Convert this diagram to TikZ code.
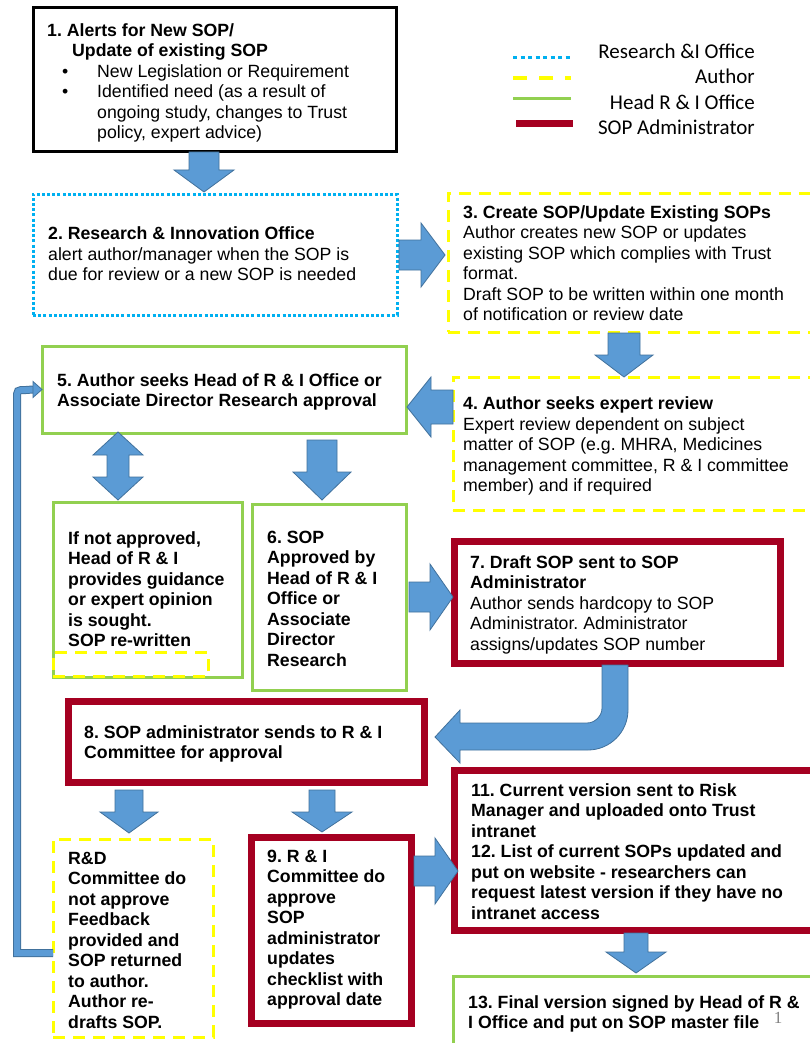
\documentclass[tikz,border=0pt]{standalone}
\usepackage{fontspec}
\setmainfont{Liberation Sans}
\newfontfamily\legfont{Carlito}
\newfontfamily\numfont{Liberation Serif}
\usetikzlibrary{calc}
\frenchspacing
\definecolor{blkfill}{HTML}{5B9BD5}
\definecolor{blkedge}{HTML}{41719C}
\definecolor{cyanb}{HTML}{00B0F0}
\definecolor{yelb}{HTML}{FFFF00}
\definecolor{greenb}{HTML}{92D050}
\definecolor{redb}{HTML}{A50021}
\tikzset{
  box/.style={rectangle, inner sep=0pt, outer sep=0pt, anchor=north west, fill=white},
  blackbox/.style={box, draw=black, line width=3pt},
  ribox/.style={box, draw=cyanb, line width=3pt, dash pattern=on 3pt off 2.2pt},
  autbox/.style={box, draw=yelb, line width=3pt, dash pattern=on 12pt off 8pt},
  headbox/.style={box, draw=greenb, line width=3pt},
  admbox/.style={box, draw=redb, line width=7pt},
  blk/.style={fill=blkfill, draw=blkedge, line width=0.8pt, line join=miter},
  txt/.style={anchor=north west, inner sep=0pt, align=left, font=\frenchspacing\fontsize{17.7}{20.5}\selectfont},
  btxt/.style={txt, font=\frenchspacing\fontsize{17.7}{20.5}\selectfont\bfseries},
  legtxt/.style={anchor=base east, inner sep=0pt, font=\legfont\fontsize{21}{25}\selectfont},
}
\newcommand\mkbox[6]{\node[#2, minimum width={#5pt-#3pt}, minimum height={#6pt-#4pt}] (#1) at (#3,#4) {};}
% cx, y0, tip y, shaft half, head half, head length
\newcommand\blkdown[6]{\filldraw[blk] (#1-#4,#2) -- (#1+#4,#2) -- (#1+#4,#3-#6) -- (#1+#5,#3-#6) -- (#1,#3) -- (#1-#5,#3-#6) -- (#1-#4,#3-#6) -- cycle;}
% cy, x0, tip x, shaft half, head half, head length
\newcommand\blkright[6]{\filldraw[blk] (#2,#1-#4) -- (#3-#6,#1-#4) -- (#3-#6,#1-#5) -- (#3,#1) -- (#3-#6,#1+#5) -- (#3-#6,#1+#4) -- (#2,#1+#4) -- cycle;}
\newcommand\blkleft[6]{\filldraw[blk] (#2,#1-#4) -- (#3+#6,#1-#4) -- (#3+#6,#1-#5) -- (#3,#1) -- (#3+#6,#1+#5) -- (#3+#6,#1+#4) -- (#2,#1+#4) -- cycle;}
\begin{document}
\begin{tikzpicture}[x=1pt, y=-1pt]
\useasboundingbox (0,0) rectangle (810,1043);
\fill[white] (0,0) rectangle (810,1043);

% boxes
\mkbox{b1}{blackbox}{33}{8}{396}{152}
\mkbox{b2}{ribox}{33}{194}{397}{315}
\mkbox{b3}{autbox}{448}{193}{830}{332}
\mkbox{b4}{autbox}{453}{377}{830}{510}
\mkbox{b5}{headbox}{42}{346}{406}{433}
\mkbox{bna}{headbox}{53}{502}{242}{677}
\node[box, fill=none, draw=yelb, line width=3pt, dash pattern=on 12pt off 8pt, minimum width=155pt, minimum height=24pt] (bsm) at (53,652) {};
\mkbox{b6}{headbox}{252}{504}{406}{690}
\mkbox{b7}{admbox}{454}{541}{780}{663}
\mkbox{b8}{admbox}{68}{701}{424}{782}
\mkbox{brd}{autbox}{53}{839}{213}{1037}
\mkbox{b9}{admbox}{251}{837}{411}{1023}
\mkbox{b11}{admbox}{454}{770}{830}{930}
\mkbox{b13}{headbox}{453}{976}{830}{1070}

% texts
\node[txt] (t1) at (47,21.5) {\strut\textbf{1. Alerts for New SOP/}\\
\hspace*{25pt}\textbf{Update of existing SOP}\\
\hspace*{15pt}\makebox[35pt][l]{•}New Legislation or Requirement\\
\hspace*{15pt}\makebox[35pt][l]{•}Identified need (as a result of\\
\hspace*{50pt}ongoing study, changes to Trust\\
\hspace*{50pt}policy, expert advice)};
\node[txt] (t2) at (48,225) {\strut\textbf{2. Research \& Innovation Office}\\
alert author/manager when the SOP is\\
due for review or a new SOP is needed};
\node[txt] (t3) at (463,203.5) {\strut\textbf{3. Create SOP/Update Existing SOPs}\\
Author creates new SOP or updates\\
existing SOP which complies with Trust\\
format.\\
Draft SOP to be written within one month\\
of notification or review date};
\node[txt] (t4) at (463,395) {\strut\textbf{4. Author seeks expert review}\\
Expert review dependent on subject\\
matter of SOP (e.g. MHRA, Medicines\\
management committee, R \& I committee\\
member) and if required};
\node[btxt] (t5) at (57,371.5) {\strut 5. Author seeks Head of R \& I Office or\\
Associate Director Research approval};
\node[btxt] (tna) at (68,529.5) {\strut If not approved,\\
Head of R \& I\\
provides guidance\\
or expert opinion\\
is sought.\\
SOP re-written};
\node[btxt] (t6) at (267,528.5) {\strut 6. SOP\\
Approved by\\
Head of R \& I\\
Office or\\
Associate\\
Director\\
Research};
\node[txt] (t7) at (470,553.5) {\strut\textbf{7. Draft SOP sent to SOP}\\
\textbf{Administrator}\\
Author sends hardcopy to SOP\\
Administrator. Administrator\\
assigns/updates SOP number};
\node[btxt] (t8) at (84,723.5) {\strut 8. SOP administrator sends to R \& I\\
Committee for approval};
\node[btxt] (trd) at (68,849.5) {\strut R\&D\\
Committee do\\
not approve\\
Feedback\\
provided and\\
SOP returned\\
to author.\\
Author re-\\
drafts SOP.};
\node[btxt] (t9) at (267,847.5) {\strut 9. R \& I\\
Committee do\\
approve\\
SOP\\
administrator\\
updates\\
checklist with\\
approval date};
\node[btxt] (t11) at (471,781.5) {\strut 11. Current version sent to Risk\\
Manager and uploaded onto Trust\\
intranet\\
12. List of current SOPs updated and\\
put on website - researchers can\\
request latest version if they have no\\
intranet access};
\node[btxt] (t13) at (468,993.5) {\strut 13. Final version signed by Head of R \&\\
I Office and put on SOP master file};
\node[inner sep=0pt, text=gray, font=\numfont\fontsize{17}{17}\selectfont] (pg) at (778,1018) {1};

% legend
\draw[cyanb, line width=3pt, dash pattern=on 4pt off 3.5pt] (513,58) -- (570,58);
\draw[yelb, line width=3.5pt, dash pattern=on 14pt off 12pt] (513,78) -- (571,78);
\draw[greenb, line width=3pt] (513,99) -- (571,99);
\draw[redb, line width=7pt] (516,124) -- (573,124);
\node[legtxt] (l1) at (755,59) {Research \&I Office};
\node[legtxt] (l2) at (755,84) {Author};
\node[legtxt] (l3) at (755,110) {Head R \& I Office};
\node[legtxt] (l4) at (755,135) {SOP Administrator};

% block arrows
\blkdown{204}{152}{192}{15}{30}{22}
\blkright{255}{399}{445}{15}{32}{24}
\blkdown{624}{333}{377}{16}{29}{22}
\blkleft{407}{453}{407}{17}{30}{24}
\filldraw[blk] (118,432) -- (143,455) -- (129,455) -- (129,477) -- (143,477) -- (118,500) -- (93,477) -- (107,477) -- (107,455) -- (93,455) -- cycle;
\blkdown{322}{440}{500}{15}{29}{28}
\blkright{597}{409}{453}{15}{33}{23}
\filldraw[blk] (602,665) -- (602,708) .. controls (602,716) and (595,723) .. (587,723) -- (460,723) -- (460,710) -- (435,737) -- (460,763) -- (460,750) -- (588,750) .. controls (610,750) and (628,732) .. (628,710) -- (628,665) -- cycle;
\blkdown{129}{790}{833}{14}{29}{21}
\blkdown{322}{790}{832}{13}{30}{20}
\blkright{871}{414}{458}{15}{33}{23}
\blkdown{636}{933}{973}{12}{30}{21}

% feedback connector
\coordinate (fb1) at (17,953);
\coordinate (fb2) at (17,399);
\coordinate (fb3) at (26,390);
\coordinate (fbh) at ($(b5.west)+(-9,0)$);
\draw[blkedge, line width=8pt] ([yshift=-15pt]brd.west) -- (fb1) -- (fb2) .. controls (17,390) .. (fb3) -- (fbh);
\draw[blkfill, line width=6pt] ([yshift=-15pt]brd.west) -- (fb1) -- (fb2) .. controls (17,390) .. (fb3) -- (fbh);
\filldraw[blk] ($(fbh)+(0,-8)$) -- (b5.west) -- ($(fbh)+(0,8)$) -- cycle;
\end{tikzpicture}
\end{document}
